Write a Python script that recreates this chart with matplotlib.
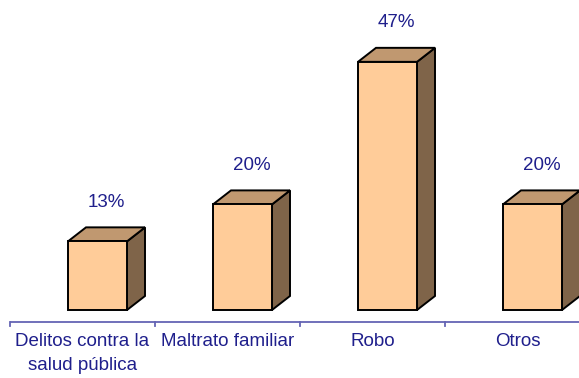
import matplotlib.pyplot as plt
from matplotlib.patches import Polygon

categories = ["Delitos contra la\nsalud pública", "Maltrato familiar", "Robo", "Otros"]
values = [13, 20, 47, 20]
labels = ["13%", "20%", "47%", "20%"]

plt.rcParams['font.family'] = ['Liberation Sans', 'DejaVu Sans']

W, H = 579, 378
fig = plt.figure(figsize=(W / 100, H / 100), dpi=100)
ax = fig.add_axes([0, 0, 1, 1])

# pixel layout: one category = 145 px, 1 % = 5.28 px
cat_px = 145.0
pct_px = 5.28
x0_px = 10.0
base_px = 310.0
ax.set_xlim(-x0_px / cat_px, (W - x0_px) / cat_px)
ax.set_ylim((base_px - H) / pct_px, base_px / pct_px)
ax.axis('off')

front = "#FFCC99"
top = "#C09870"
side = "#7F6449"
text_col = "#1F1F8C"
axis_col = "#6464B4"

bar_left = 58 / cat_px
bar_w = 59 / cat_px
dx = 18 / cat_px
dy = 14 / pct_px

for i, v in enumerate(values):
    x1 = i + bar_left
    x2 = x1 + bar_w
    kw = dict(edgecolor="black", linewidth=1.4, joinstyle="miter")
    ax.add_patch(Polygon([(x2, 0), (x2 + dx, dy), (x2 + dx, v + dy), (x2, v)],
                         facecolor=side, **kw))
    ax.add_patch(Polygon([(x1, v), (x2, v), (x2 + dx, v + dy), (x1 + dx, v + dy)],
                         facecolor=top, **kw))
    ax.add_patch(Polygon([(x1, 0), (x2, 0), (x2, v), (x1, v)],
                         facecolor=front, **kw))
    ax.text(x1 + (bar_w + dx) / 2, v + 39 / pct_px, labels[i], ha="center", va="center",
            fontsize=13.5, color=text_col)

# category axis
axis_y = -12 / pct_px
tick_len = 4 / pct_px
ax.plot([0, len(values)], [axis_y, axis_y], color=axis_col, linewidth=1.3,
        clip_on=False, solid_capstyle="butt")
for i in range(len(values) + 1):
    ax.plot([i, i], [axis_y, axis_y - tick_len], color=axis_col, linewidth=1.3)

for i, c in enumerate(categories):
    ax.text(i + 0.5, -23 / pct_px, c, ha="center", va="top", fontsize=13.5,
            color=text_col, linespacing=1.55)

fig.savefig("out.png", dpi=100)
